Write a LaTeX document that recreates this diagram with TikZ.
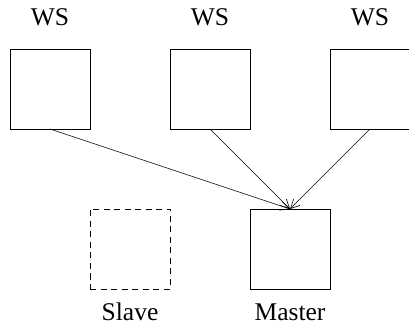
\documentclass[tikz,border=0pt]{standalone}
\usepackage{fontspec}
\setmainfont{Liberation Serif}
\usetikzlibrary{arrows.meta}
\begin{document}
\begin{tikzpicture}[x=1pt,y=-1pt,
  box/.style={draw,line width=0.7pt,minimum size=80pt,inner sep=0pt,outer sep=0pt},
  dbox/.style={box,dash pattern=on 6pt off 4.5pt},
  lbl/.style={font=\fontsize{25.5}{28}\selectfont,anchor=base,inner sep=0pt},
  conn/.style={line width=0.6pt,-{Straight Barb[length=9pt,width=9pt,line width=0.6pt]}}]
\useasboundingbox (0,0) rectangle (409,328);
\node[box] (w1) at (50,89) {};
\node[box] (w2) at (210,89) {};
\node[box] (w3) at (370,89) {};
\node[dbox] (slave) at (130,249) {};
\node[box] (master) at (290,249) {};
\node[lbl] (l1) at (50,26) {WS};
\node[lbl] (l2) at (210,26) {WS};
\node[lbl] (l3) at (370,26) {WS};
\node[lbl] (ls) at (130,320) {Slave};
\node[lbl] (lm) at (290,320) {Master};
\draw[conn] (w1.south) -- (master.north);
\draw[conn] (w2.south) -- (master.north);
\draw[conn] (w3.south) -- (master.north);
\end{tikzpicture}
\end{document}
